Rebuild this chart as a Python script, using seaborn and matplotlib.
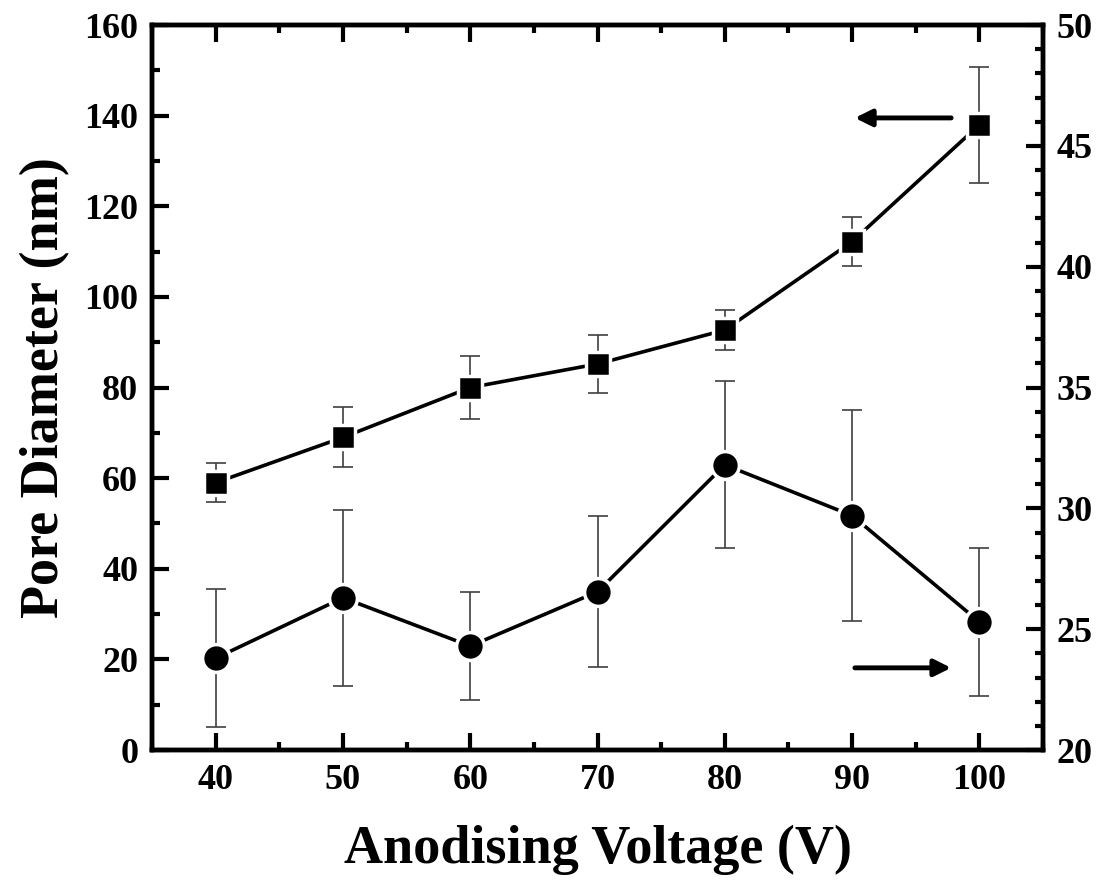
import numpy as np
import pandas as pd
import matplotlib
matplotlib.use("Agg")
import matplotlib.pyplot as plt
import seaborn as sns
from matplotlib.ticker import MultipleLocator

# data
voltage = [40, 50, 60, 70, 80, 90, 100]
pore_diameter = [59.0, 69.0, 80.0, 85.2, 92.7, 112.2, 138.0]
pore_err = [4.3, 6.6, 7.0, 6.5, 4.4, 5.4, 12.8]
right_values = [23.8, 26.3, 24.3, 26.55, 31.8, 29.7, 25.3]
right_err = [2.85, 3.65, 2.25, 3.13, 3.45, 4.37, 3.05]

sns.set_style("ticks")
plt.rcParams['font.family'] = ['Liberation Serif', 'DejaVu Serif']
plt.rcParams['font.weight'] = 'bold'
plt.rcParams['text.color'] = 'black'
plt.rcParams['axes.labelcolor'] = 'black'
plt.rcParams['axes.edgecolor'] = 'black'
plt.rcParams['xtick.color'] = 'black'
plt.rcParams['ytick.color'] = 'black'

df = pd.DataFrame({"voltage": voltage, "pore": pore_diameter, "right": right_values})

fig = plt.figure(figsize=(11.02, 8.88), dpi=100)
ax = fig.add_axes([0.138, 0.1554, 0.8085, 0.8164])
ax2 = ax.twinx()

# squares on the left axis
ax.errorbar(voltage, pore_diameter, yerr=pore_err, fmt='none', ecolor='#404040',
            elinewidth=1.2, capsize=7, capthick=1.2, zorder=2)
sns.lineplot(data=df, x="voltage", y="pore", ax=ax, color='black', linewidth=2.6,
             marker='s', markersize=17, markeredgecolor='white', markeredgewidth=2.5,
             zorder=3)

# circles on the right axis
ax2.errorbar(voltage, right_values, yerr=right_err, fmt='none', ecolor='#404040',
             elinewidth=1.2, capsize=7, capthick=1.2, zorder=2)
sns.lineplot(data=df, x="voltage", y="right", ax=ax2, color='black', linewidth=2.6,
             marker='o', markersize=20, markeredgecolor='white', markeredgewidth=2.5,
             zorder=3)

ax.set_xlim(35, 105)
ax.set_ylim(0, 160)
ax2.set_ylim(20, 50)

ax.xaxis.set_major_locator(MultipleLocator(10))
ax.xaxis.set_minor_locator(MultipleLocator(5))
ax.yaxis.set_major_locator(MultipleLocator(20))
ax.yaxis.set_minor_locator(MultipleLocator(10))
ax2.yaxis.set_major_locator(MultipleLocator(5))
ax2.yaxis.set_minor_locator(MultipleLocator(1))

ax.tick_params(axis='both', which='major', direction='in', length=12, width=3,
               labelsize=26, pad=10, top=True, right=False)
ax.tick_params(axis='both', which='minor', direction='in', length=6, width=3,
               top=True, right=False)
ax2.tick_params(axis='y', which='major', direction='in', length=12, width=3,
                labelsize=26, pad=10)
ax2.tick_params(axis='y', which='minor', direction='in', length=6, width=3)

for a in (ax, ax2):
    for s in a.spines.values():
        s.set_linewidth(3.2)
        s.set_color('black')
    for lab in a.get_xticklabels() + a.get_yticklabels():
        lab.set_fontweight('bold')

ax.set_xlabel("Anodising Voltage (V)", fontsize=39, fontweight='bold', labelpad=20)
ax.set_ylabel("Pore Diameter (nm)", fontsize=39, fontweight='bold', labelpad=10)
ax2.set_ylabel("")

# arrows pointing to the matching axis
ax.annotate("", xy=(90, 139.5), xytext=(98, 139.5),
            arrowprops=dict(arrowstyle='-|>', color='black', lw=3.5, mutation_scale=25))
ax2.annotate("", xy=(98, 23.4), xytext=(90, 23.4),
             arrowprops=dict(arrowstyle='-|>', color='black', lw=3.5, mutation_scale=25))

fig.savefig("out.png", dpi=100)
